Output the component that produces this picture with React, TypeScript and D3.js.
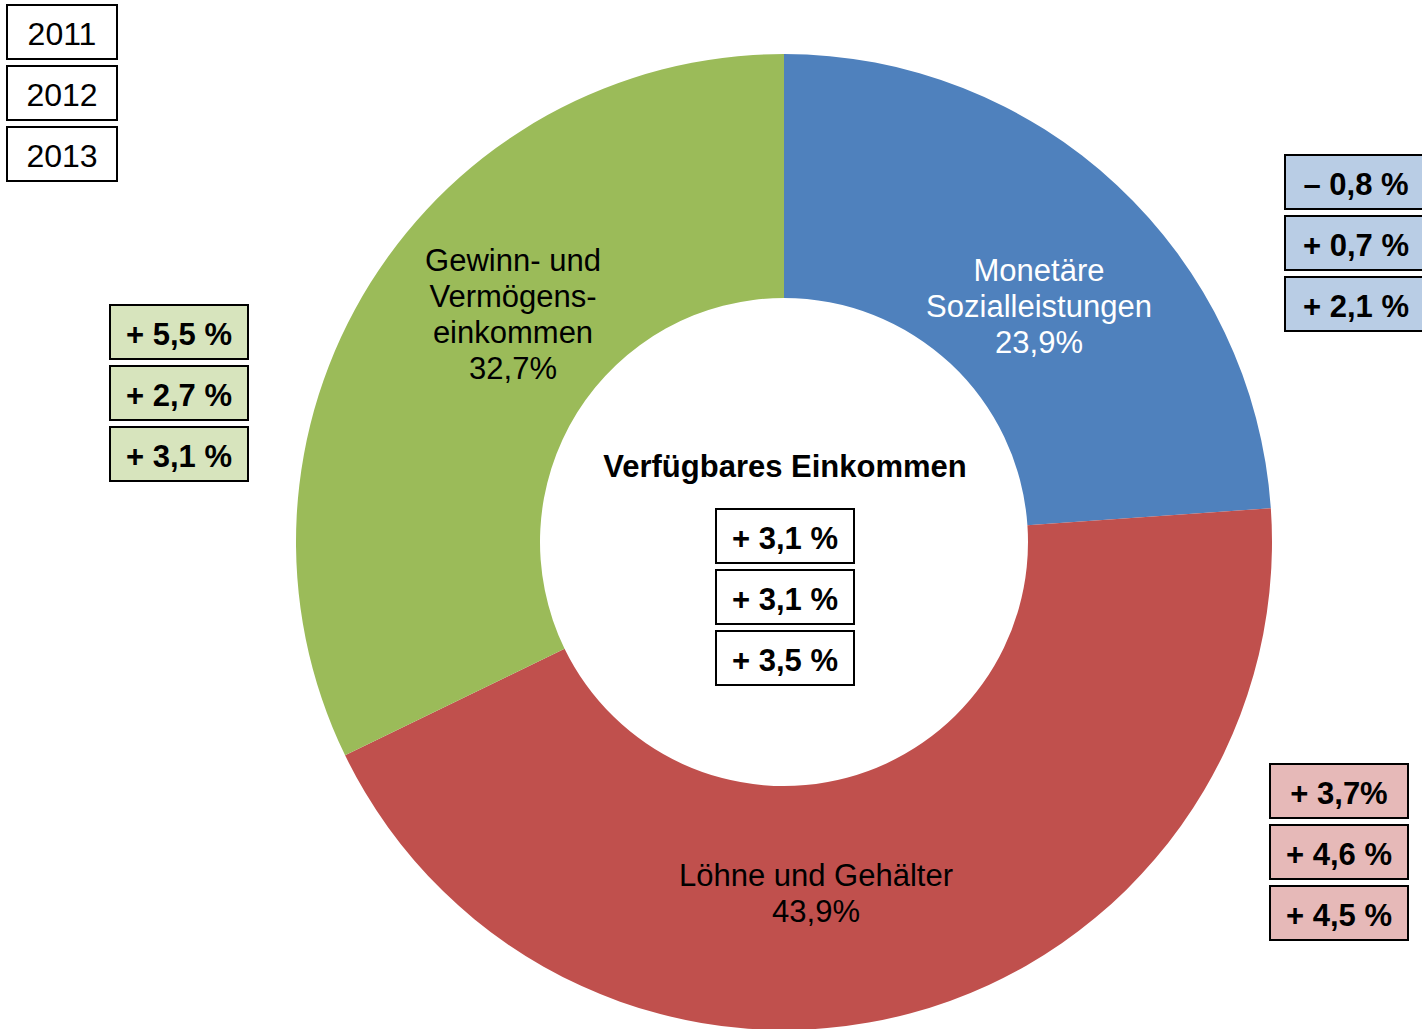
import React from "react";
import * as d3 from "d3";

const categories = ["Monetäre Sozialleistungen", "Löhne und Gehälter", "Gewinn- und Vermögenseinkommen"];
const shares = [23.9, 43.9, 32.7];
const shareLabels = ["23,9%", "43,9%", "32,7%"];
const years = ["2011", "2012", "2013"];
const changesSozial = ["– 0,8 %", "+ 0,7 %", "+ 2,1 %"];
const changesLoehne = ["+ 3,7%", "+ 4,6 %", "+ 4,5 %"];
const changesGewinn = ["+ 5,5 %", "+ 2,7 %", "+ 3,1 %"];
const changesTotal = ["+ 3,1 %", "+ 3,1 %", "+ 3,5 %"];
const centerTitle = "Verfügbares Einkommen";

const W = 1422;
const H = 1029;
const cx = 784;
const cy = 542;
const outerR = 488;
const innerR = 244;
const colors = ["#4F81BD", "#C0504D", "#9BBB59"];
const lightColors = ["#B9CDE5", "#E6B9B8", "#D7E4BD"];
const FONT = "Arial, 'Liberation Sans', Helvetica, sans-serif";
const FS = 31;

function BoxStack({ x, y, w, labels, fill, bold, fs }: { x: number; y: number; w: number; labels: string[]; fill: string; bold: boolean; fs: number }) {
  const h = 54;
  const step = 61;
  return (
    <g>
      {labels.map((l, i) => (
        <g key={i}>
          <rect x={x} y={y + i * step} width={w} height={h} fill={fill} stroke="#000" strokeWidth={2} />
          <text
            x={x + w / 2}
            y={y + i * step + h / 2 + fs * 0.36 + 1.5}
            textAnchor="middle"
            fontFamily={FONT}
            fontSize={fs}
            fontWeight={bold ? "bold" : "normal"}
            fill="#000"
          >
            {l}
          </text>
        </g>
      ))}
    </g>
  );
}

export default function App() {
  // angles scaled on a 0..100 % circle; the last slice fills the remainder
  const angle = d3.scaleLinear().domain([0, 100]).range([0, 2 * Math.PI]).clamp(true);
  const cum = d3.cumsum(shares);
  const slices = shares.map((v, i) => ({
    startAngle: angle(cum[i] - v),
    endAngle: angle(cum[i]),
  }));
  const arc = d3.arc<{ startAngle: number; endAngle: number }>().innerRadius(innerR).outerRadius(outerR);

  const labelSpecs = [
    { lines: ["Monetäre", "Sozialleistungen", shareLabels[0]], x: 1039, y: 270, color: "#fff" },
    { lines: ["Löhne und Gehälter", shareLabels[1]], x: 816, y: 875, color: "#000" },
    { lines: ["Gewinn- und", "Vermögens-", "einkommen", shareLabels[2]], x: 513, y: 260, color: "#000" },
  ];

  return (
    <svg width={W} height={H} style={{ position: "absolute", left: 0, top: 0, background: "#fff" }}>
      <g transform={`translate(${cx},${cy})`}>
        {slices.map((d, i) => (
          <path key={categories[i]} d={arc(d) || ""} fill={colors[i]} />
        ))}
      </g>
      {labelSpecs.map((s, i) => (
        <g key={i}>
          {s.lines.map((l, j) => (
            <text
              key={j}
              x={s.x}
              y={s.y + j * 36 + 11}
              textAnchor="middle"
              fontFamily={FONT}
              fontSize={FS}
              fill={s.color}
            >
              {l}
            </text>
          ))}
        </g>
      ))}
      <text x={785} y={477} textAnchor="middle" fontFamily={FONT} fontSize={FS} fontWeight="bold" fill="#000">
        {centerTitle}
      </text>
      <BoxStack x={7} y={5} w={110} labels={years} fill="#fff" bold={false} fs={32} />
      <BoxStack x={1285} y={155} w={142} labels={changesSozial} fill={lightColors[0]} bold={true} fs={FS} />
      <BoxStack x={1270} y={764} w={138} labels={changesLoehne} fill={lightColors[1]} bold={true} fs={FS} />
      <BoxStack x={110} y={305} w={138} labels={changesGewinn} fill={lightColors[2]} bold={true} fs={FS} />
      <BoxStack x={716} y={509} w={138} labels={changesTotal} fill="#fff" bold={true} fs={FS} />
    </svg>
  );
}
